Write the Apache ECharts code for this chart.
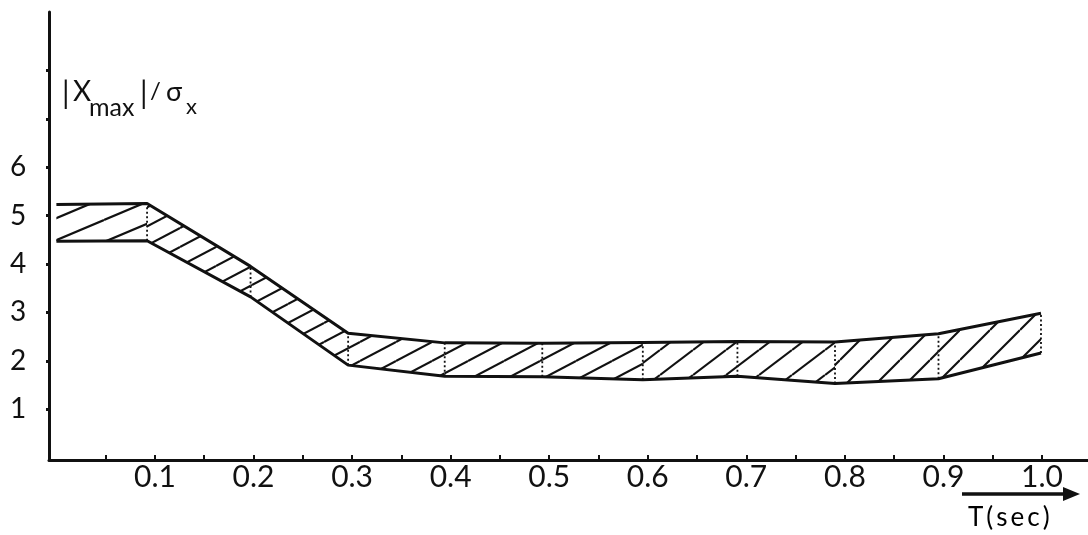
<!DOCTYPE html>
<html>
<head>
<meta charset="utf-8">
<script src="https://cdn.jsdelivr.net/npm/echarts@6/dist/echarts.min.js"></script>
<style>
html,body{margin:0;padding:0;background:#fff;}
#chart{width:1088px;height:535px;}
</style>
</head>
<body>
<div id="chart"></div>
<script>
// ---- data ----
const periods = [0, 0.092, 0.197, 0.296, 0.394, 0.493, 0.595, 0.691, 0.79, 0.895, 0.999];
const upperBound = [5.23, 5.25, 3.95, 2.57, 2.37, 2.36, 2.38, 2.40, 2.39, 2.56, 2.98];
const lowerBound = [4.47, 4.48, 3.32, 1.91, 1.68, 1.67, 1.61, 1.68, 1.53, 1.63, 2.16];
const xTickLabels = [0.1, 0.2, 0.3, 0.4, 0.5, 0.6, 0.7, 0.8, 0.9, 1.0];
const xTickMarks = [0.05, 0.1, 0.15, 0.2, 0.25, 0.3, 0.35, 0.4, 0.45, 0.5, 0.55, 0.6, 0.65, 0.7, 0.75, 0.8, 0.85, 0.9, 0.95, 1.0];
const yTickLabels = [1, 2, 3, 4, 5, 6];
const yTickMarks = [1, 2, 3, 4, 5, 6, 7, 8];

// ---- hatch patterns (style only) ----
function hatch(W, H, lw) {
  const c = document.createElement('canvas');
  c.width = W; c.height = H;
  const g = c.getContext('2d');
  g.strokeStyle = '#111';
  g.lineWidth = lw;
  for (let j = -1; j <= 1; j++) {
    g.beginPath();
    g.moveTo(0, H + j * H);
    g.lineTo(W, 0 + j * H);
    g.stroke();
  }
  return { image: c, repeat: 'repeat' };
}
const patterns = [
  hatch(52, 22, 2.2),
  hatch(36, 19, 2.1),
  hatch(33, 25, 2.1),
  hatch(30, 30, 2.1)
];
const segmentHatch = [0, 1, 1, 1, 1, 1, 2, 2, 3, 3];

const upperLine = periods.map((x, i) => [x, upperBound[i]]);
const lowerLine = periods.map((x, i) => [x, lowerBound[i]]);
const bandSegments = periods.slice(0, -1).map((x, i) =>
  [x, periods[i + 1], lowerBound[i], upperBound[i], lowerBound[i + 1], upperBound[i + 1], i]);

const chart = echarts.init(document.getElementById('chart'), null, { renderer: 'canvas' });
const FONT = 'Lato, "DejaVu Sans", sans-serif';
const INK = '#111111';

chart.setOption({
  animation: false,
  backgroundColor: '#ffffff',
  grid: { left: 49, right: 0, top: 12, bottom: 75, containLabel: false },
  xAxis: {
    type: 'value',
    min: -0.0075,
    max: 1.0467,
    splitLine: { show: false },
    axisLine: { show: true, onZero: false, lineStyle: { color: INK, width: 3 } },
    axisTick: { show: true, inside: true, length: 5, customValues: xTickMarks, lineStyle: { color: INK, width: 2 } },
    axisLabel: {
      show: true, customValues: xTickLabels, margin: 17, verticalAlign: 'middle',
      color: INK, fontFamily: FONT, fontWeight: 'normal', fontSize: 30,
      formatter: v => (v === 1 ? '1.0' : String(v))
    }
  },
  yAxis: {
    type: 'value',
    min: -0.05,
    max: 9.206,
    splitLine: { show: false },
    axisLine: { show: true, onZero: false, lineStyle: { color: INK, width: 3 } },
    axisTick: { show: true, length: 3, customValues: yTickMarks, lineStyle: { color: INK, width: 3 } },
    axisLabel: {
      show: true, customValues: yTickLabels, margin: 31, align: 'center',
      color: INK, fontFamily: FONT, fontWeight: 'normal', fontSize: 28
    }
  },
  series: [
    {
      type: 'custom',
      z: 1,
      encode: { x: [0, 1], y: [2, 3, 4, 5] },
      data: bandSegments,
      renderItem: function (params, api) {
        const x0 = api.value(0), x1 = api.value(1);
        const a = api.coord([x0, api.value(2)]);
        const b = api.coord([x1, api.value(4)]);
        const c = api.coord([x1, api.value(5)]);
        const d = api.coord([x0, api.value(3)]);
        const idx = api.value(6);
        return {
          type: 'group',
          children: [
            {
              type: 'polygon',
              shape: { points: [a, b, c, d] },
              style: { fill: patterns[segmentHatch[idx]], stroke: null }
            },
            {
              type: 'line',
              shape: { x1: b[0], y1: b[1], x2: c[0], y2: c[1] },
              style: { stroke: '#111', lineWidth: 1.8, lineDash: [2, 2.5] }
            }
          ]
        };
      }
    },
    {
      type: 'line', z: 3, data: upperLine, symbol: 'none',
      lineStyle: { color: INK, width: 3 }
    },
    {
      type: 'line', z: 3, data: lowerLine, symbol: 'none',
      lineStyle: { color: INK, width: 3 }
    }
  ],
  graphic: [
    { type: 'text', left: 62, top: 79, style: { text: '|', fontFamily: FONT, fontSize: 30, fill: INK } },
    { type: 'text', left: 73, top: 78, style: { text: 'X', fontFamily: FONT, fontSize: 28, fill: INK } },
    { type: 'text', left: 89, top: 95, style: { text: 'max', fontFamily: FONT, fontSize: 25, fill: INK } },
    { type: 'text', left: 140, top: 79, style: { text: '|', fontFamily: FONT, fontSize: 30, fill: INK } },
    { type: 'text', left: 150, top: 79, style: { text: '/', fontFamily: FONT, fontSize: 24, fill: INK } },
    { type: 'text', left: 166, top: 79, style: { text: 'σ', fontFamily: FONT, fontSize: 27, fill: INK } },
    { type: 'text', left: 186, top: 96, style: { text: 'x', fontFamily: FONT, fontSize: 22, fill: INK } },
    { type: 'line', shape: { x1: 962, y1: 494, x2: 1068, y2: 494 }, style: { stroke: INK, lineWidth: 3.4 } },
    { type: 'polygon', shape: { points: [[1063, 487], [1080, 494], [1063, 501]] }, style: { fill: INK } },
    {
      type: 'text', left: 968, top: 505,
      style: {
        text: '{a|T}{a|(}{a|s}{a|e}{a|c}{a|)}',
        rich: { a: { fontFamily: FONT, fontSize: 26, color: INK, padding: [0, 1.5, 0, 1.5] } }
      }
    }
  ]
});
</script>
</body>
</html>
